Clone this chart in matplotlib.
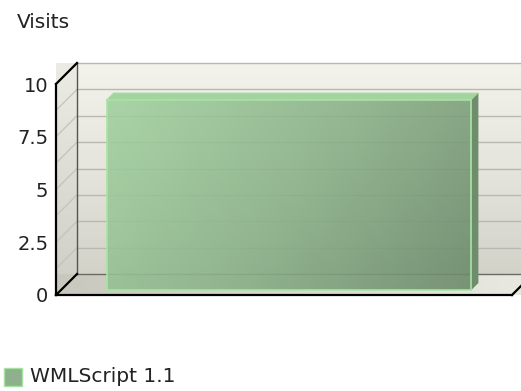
import numpy as np
import matplotlib
matplotlib.use("Agg")
import matplotlib.pyplot as plt
from matplotlib.patches import Polygon, Rectangle
from matplotlib.colors import LinearSegmentedColormap

# ---- data ----
categories = ["WMLScript 1.1"]
visits = [9]
y_ticks = [0, 2.5, 5, 7.5, 10]
y_tick_labels = ["0", "2.5", "5", "7.5", "10"]
y_label = "Visits"

W, H = 521, 391
fig = plt.figure(figsize=(W / 100, H / 100), dpi=100)
fig.patch.set_facecolor("white")

TEXT = "#222222"

ax_left, ax_right, ax_top, ax_bot = 56, 512, 84, 295
ax = fig.add_axes([ax_left / W, (H - ax_bot) / H, (ax_right - ax_left) / W, (ax_bot - ax_top) / H])
ax.patch.set_visible(False)
for s in ax.spines.values():
    s.set_visible(False)
ax.set_xticks([])
ax.set_yticks(y_ticks)
ax.set_yticklabels(y_tick_labels)
ax.tick_params(axis="y", length=0, pad=5.5, labelsize=14, labelcolor=TEXT)

# depth (pixels) -> data offsets
px_x = 1.0 / (ax_right - ax_left)
px_y = 10.0 / (ax_bot - ax_top)
DEPTH = 21


def P(x, y, d):
    return (x + d * px_x, y + d * px_y)


grad = np.linspace(0, 1, 256).reshape(-1, 1)

# back wall with vertical gradient
wall = Polygon([P(0, 0, DEPTH), P(1.2, 0, DEPTH), P(1.2, 10, DEPTH), P(0, 10, DEPTH)],
               closed=True, facecolor="none", edgecolor="none", clip_on=False)
ax.add_patch(wall)
wall_cmap = LinearSegmentedColormap.from_list("wall", ["#d3d2c9", "#e6e5dd", "#f3f2eb"])
x0, y0 = P(0, 0, DEPTH)
im = ax.imshow(grad, cmap=wall_cmap, origin="lower", aspect="auto",
               extent=[x0, x0 + 1.2, y0, y0 + 10], clip_on=False, zorder=0.5)
im.set_clip_path(wall)

# left wall
lw_poly = Polygon([P(0, 0, 0), P(0, 10, 0), P(0, 10, DEPTH), P(0, 0, DEPTH)], closed=True,
                  facecolor="none", edgecolor="none", clip_on=False)
ax.add_patch(lw_poly)
left_cmap = LinearSegmentedColormap.from_list("lw", ["#cfcec5", "#ecebe4"])
im2 = ax.imshow(grad, cmap=left_cmap, origin="lower", aspect="auto",
                extent=[0, DEPTH * px_x, 0, 10 + DEPTH * px_y], clip_on=False, zorder=0.5)
im2.set_clip_path(lw_poly)

# floor with horizontal gradient (gray left -> cream right)
floor = Polygon([P(0, 0, 0), P(1, 0, 0), P(1, 0, DEPTH), P(1.2, 0, DEPTH), P(0, 0, DEPTH)], closed=True,
                facecolor="none", edgecolor="none", clip_on=False)
ax.add_patch(floor)
floor_cmap = LinearSegmentedColormap.from_list("fl", ["#c9c8bf", "#dcdbd2", "#efeee7"])
im3 = ax.imshow(grad.T, cmap=floor_cmap, origin="lower", aspect="auto",
                extent=[0, 1.2, 0, DEPTH * px_y], clip_on=False, zorder=0.6)
im3.set_clip_path(floor)

# grid lines
for v in np.arange(0, 10.01, 1.25):
    a, b, c = P(0, v, 0), P(0, v, DEPTH), P(1.2, v, DEPTH)
    ax.plot([a[0], b[0]], [a[1], b[1]], color="#c4c3bb", lw=0.9, clip_on=False, zorder=0.8)
    ax.plot([b[0], c[0]], [b[1], c[1]], color="#b9b8b0" if v > 0 else "#6a6a63",
            lw=1.0, clip_on=False, zorder=0.8)

# frame edges
a, b = P(0, 0, DEPTH), P(0, 10, DEPTH)
ax.plot([a[0], b[0]], [a[1], b[1]], color="#55554f", lw=1.0, clip_on=False, zorder=0.9)
ax.plot([0, 0], [0, 10], color="black", lw=1.6, clip_on=False, zorder=3)
a = P(0, 10, DEPTH)
ax.plot([0, a[0]], [10, a[1]], color="black", lw=1.6, clip_on=False, zorder=3)
a = P(0, 0, DEPTH)
ax.plot([0, a[0]], [0, a[1]], color="black", lw=1.6, clip_on=False, zorder=3)
ax.plot([0, 1], [0, 0], color="black", lw=1.6, clip_on=False, zorder=3)
a = P(1, 0, DEPTH)
ax.plot([1, a[0]], [0, a[1]], color="black", lw=1.6, clip_on=False, zorder=3)

# bars (pseudo-3D, slightly translucent)
bar_front, bar_depth = 5, 7
width = 0.8
bar_cmap = LinearSegmentedColormap.from_list("bar", ["#a2d1a0", "#8bb289", "#6c8a6b"])
for i, (cat, val) in enumerate(zip(categories, visits)):
    xc = 0.5 + i
    xl, xr = xc - width / 2, xc + width / 2
    fx = bar_front * px_x
    fy = bar_front * px_y
    front = Rectangle((xl + fx, fy), width, val, facecolor="none", edgecolor="#a8e4a3",
                      lw=1.2, clip_on=False, zorder=2.2)
    ax.add_patch(front)
    gx = np.linspace(0, 1, 200)
    gy = np.linspace(0, 1, 100)
    GX, GY = np.meshgrid(gx, gy)
    G = 0.8 * GX + 0.3 * (1 - GY)
    G = (G - G.min()) / (G.max() - G.min())
    imb = ax.imshow(G, cmap=bar_cmap, origin="lower", aspect="auto", alpha=0.9,
                    extent=[xl + fx, xr + fx, fy, fy + val], clip_on=False, zorder=2.1)
    imb.set_clip_path(front)
    top = Polygon([P(xl, val, bar_front), P(xr, val, bar_front),
                   P(xr, val, bar_front + bar_depth), P(xl, val, bar_front + bar_depth)],
                  closed=True, facecolor="#a3d49f", edgecolor="#a8dca4", lw=0.8,
                  clip_on=False, zorder=2.0)
    ax.add_patch(top)
    side = Polygon([P(xr, 0, bar_front), P(xr, val, bar_front),
                    P(xr, val, bar_front + bar_depth), P(xr, 0, bar_front + bar_depth)],
                   closed=True, facecolor="#6f8d6d", edgecolor="none", clip_on=False, zorder=2.0)
    ax.add_patch(side)

ax.set_xlim(0, 1)
ax.set_ylim(0, 10)

# axis label at top
fig.text(17 / W, 1 - 22 / H, y_label, fontsize=14.5, color=TEXT, ha="left", va="center")

# legend
lx, ly, ls = 4, 368, 18
fig.patches.append(Rectangle((lx / W, 1 - (ly + ls) / H), ls / W, ls / H,
                             transform=fig.transFigure, facecolor="#8fb08d",
                             edgecolor="#a6e3a1", lw=1.0))
fig.text(30 / W, 1 - 377 / H, categories[0], fontsize=14.5, color=TEXT, ha="left", va="center")

fig.savefig("out.png", dpi=100)
